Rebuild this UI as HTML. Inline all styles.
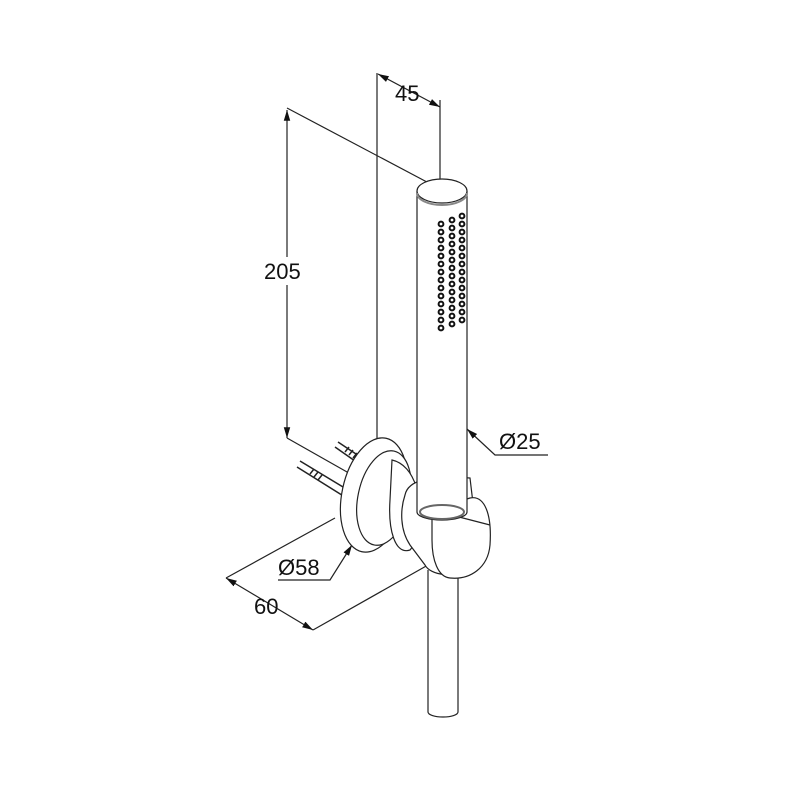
<!DOCTYPE html>
<html><head><style>body{margin:0;background:#fff}svg{display:block}</style></head><body>
<svg width="800" height="800" viewBox="0 0 800 800" xmlns="http://www.w3.org/2000/svg" font-family="Liberation Sans, sans-serif">
<defs><marker id="a" viewBox="0 0 10 10" refX="10" refY="5" markerWidth="9" markerHeight="9" orient="auto-start-reverse"><path d="M0,2 L10,5 L0,8z" fill="#111"/></marker></defs>
<g stroke="#222" stroke-width="1.2" fill="none">
<line x1="287" y1="110" x2="287" y2="438" marker-start="url(#a)" marker-end="url(#a)"/>
<line x1="287" y1="108" x2="442" y2="190"/>
<line x1="287" y1="438" x2="370" y2="485"/>
<line x1="377" y1="73" x2="377" y2="440"/>
<line x1="440" y1="100" x2="440" y2="190"/>
<line x1="378" y1="74" x2="440" y2="107" marker-start="url(#a)" marker-end="url(#a)"/>
<polyline points="467,429 495,455 548,455" marker-start="url(#a)"/>
<line x1="226" y1="578" x2="313" y2="630" marker-start="url(#a)" marker-end="url(#a)"/>
<line x1="226" y1="578" x2="335" y2="518"/>
<line x1="313" y1="630" x2="428" y2="565"/>
<polyline points="278,580 330,580 352,545" marker-end="url(#a)"/>
<g stroke-width="1.5">
<line x1="335" y1="447" x2="365" y2="468"/><line x1="338" y1="442" x2="368" y2="462"/>
<line x1="297" y1="467" x2="345" y2="497"/><line x1="300" y1="461" x2="348" y2="490"/>
<path d="M345,452 l4,-5 M349,455 l4,-5 M353,458 l4,-5 M310,474 l4,-5 M314,477 l4,-5 M318,480 l4,-5"/>
</g>
<g fill="#fff">
<ellipse cx="374" cy="495" rx="32" ry="58" transform="rotate(12 374 495)"/>
<ellipse cx="384" cy="498" rx="26" ry="48" transform="rotate(12 384 498)"/>
<path d="M392,460 C415,465 425,500 418,540 L410,550 C395,555 388,530 390,500z"/>
</g>
<path d="M428,570 L428,712 A15,5 0 0 0 458,712 L458,570" fill="#fff"/>
<path d="M405,495 C408,480 430,475 470,478 L475,520 L470,565 C455,580 430,575 425,565 L410,545 C400,530 400,510 405,495z" fill="#fff"/>
<path d="M432,510 L470,498 C485,495 492,515 490,545 C488,568 470,580 450,578 C438,577 432,560 432,540z" fill="#fff"/>
<line x1="432" y1="510" x2="490" y2="525"/>
<path d="M417,191 L417,512 A25,8 0 0 0 467,512 L467,191" fill="#fff"/>
<ellipse cx="442" cy="191" rx="25" ry="12" fill="#fff"/>
<path d="M417,193 A25,12 0 0 0 467,193" stroke-width="2" stroke="#888"/>
<ellipse cx="442" cy="512" rx="22" ry="7" stroke="#666" stroke-width="2"/>
</g>
<g fill="#fff" stroke="#111" stroke-width="2">
<g id="d">
<circle cx="441" cy="224" r="2.4"/><circle cx="441" cy="232" r="2.4"/><circle cx="441" cy="240" r="2.4"/><circle cx="441" cy="248" r="2.4"/><circle cx="441" cy="256" r="2.4"/><circle cx="441" cy="264" r="2.4"/><circle cx="441" cy="272" r="2.4"/><circle cx="441" cy="280" r="2.4"/><circle cx="441" cy="288" r="2.4"/><circle cx="441" cy="296" r="2.4"/><circle cx="441" cy="304" r="2.4"/><circle cx="441" cy="312" r="2.4"/><circle cx="441" cy="320" r="2.4"/><circle cx="441" cy="328" r="2.4"/>
</g>
<use href="#d" x="11" y="-4"/>
<use href="#d" x="21" y="-8"/>
</g>
<g font-size="22" fill="#111">
<rect x="262" y="257" width="50" height="28" fill="#fff"/>
<text x="264" y="279">205</text>
<text x="395" y="101">45</text>
<text x="499" y="449">Ø25</text>
<text x="278" y="575">Ø58</text>
<text x="254" y="614">60</text>
</g>
</svg>
</body></html>
